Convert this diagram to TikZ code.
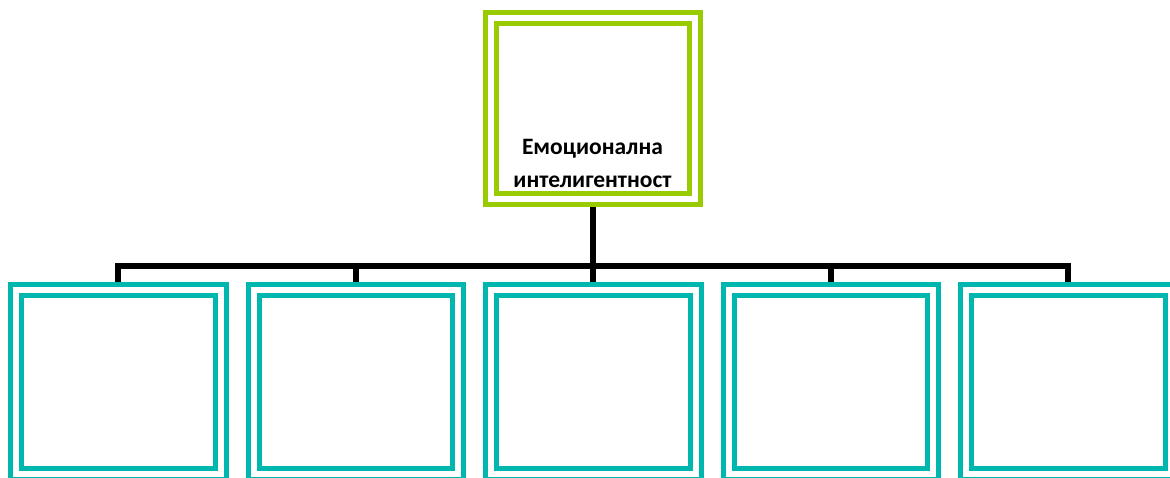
\documentclass[tikz,border=0pt]{standalone}
\usepackage{fontspec}
\setmainfont{Carlito}
\usetikzlibrary{backgrounds}
\definecolor{leaf}{RGB}{153,204,0}
\definecolor{teal2}{RGB}{0,183,176}
\tikzset{
  dbox/.style={draw=#1, line width=5pt, double=white, double distance=6pt, fill=white, rectangle, inner sep=0pt},
  topbox/.style={dbox=leaf, minimum width=203.5pt, minimum height=181pt},
  subbox/.style={dbox=teal2, minimum width=204.5pt, minimum height=183.5pt},
  conn/.style={line width=6pt, draw=black, line join=miter},
  lbl/.style={font=\bfseries\fontsize{23.5pt}{33pt}\selectfont, align=center, inner sep=0pt}
}
\begin{document}
\begin{tikzpicture}[x=1pt, y=-1pt]
\useasboundingbox (0,0) rectangle (1170,478);
\node[topbox] (top) at (592.75,108.5) {};
\node[lbl, anchor=base] (toplbl) at (592.5,188) {Емоционална\\интелигентност};
\foreach \i/\x in {1/118.25, 2/355.75, 3/593.25, 4/830.75, 5/1068.25} {
  \node[subbox] (b\i) at (\x,382.25) {};
}
\coordinate (bus) at (592.75,266);
\begin{pgfonlayer}{background}
  \draw[conn] (top.south) -- (bus);
  \foreach \i in {1,...,5} {
    \draw[conn] (bus) -| (b\i.north);
  }
\end{pgfonlayer}
\end{tikzpicture}
\end{document}
